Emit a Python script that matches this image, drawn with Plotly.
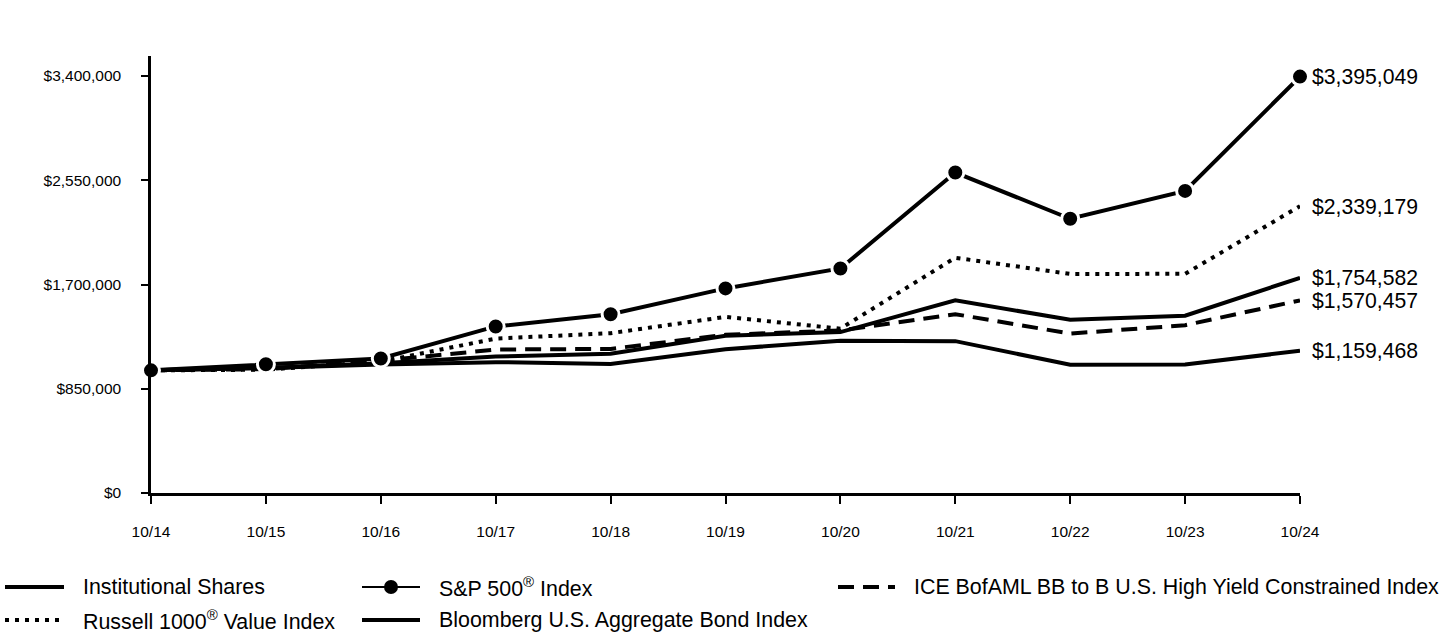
import plotly.graph_objects as go

# ---- data ----
years = ["10/14", "10/15", "10/16", "10/17", "10/18", "10/19", "10/20", "10/21", "10/22", "10/23", "10/24"]
institutional = [1000000, 1020000, 1058000, 1112000, 1136000, 1282000, 1312000, 1571000, 1412000, 1446000, 1754582]
sp500 = [1000000, 1050000, 1097000, 1358000, 1457000, 1668000, 1831000, 2613000, 2236000, 2463000, 3395049]
russell = [1000000, 1005000, 1072000, 1259000, 1303000, 1436000, 1340000, 1918000, 1786000, 1787000, 2339179]
bloomberg = [1000000, 1019000, 1048000, 1067000, 1052000, 1172000, 1242000, 1238000, 1046000, 1048000, 1159468]
ice = [1000000, 1010000, 1078000, 1170000, 1175000, 1290000, 1325000, 1458000, 1300000, 1368000, 1570457]
ytick_vals = [0, 850000, 1700000, 2550000, 3400000]
ytick_text = ["$0", "$850,000", "$1,700,000", "$2,550,000", "$3,400,000"]

FONT = "Liberation Sans, Arial, sans-serif"
W, H = 1440, 636
L, R, T, B = 151, 140, 56, 143
YMAX = 3563000

x = list(range(len(years)))
fig = go.Figure()

fig.add_trace(go.Scatter(x=x, y=bloomberg, mode="lines", name="Bloomberg U.S. Aggregate Bond Index",
                         line=dict(color="black", width=4), cliponaxis=False))
fig.add_trace(go.Scatter(x=x, y=ice, mode="lines", name="ICE BofAML BB to B U.S. High Yield Constrained Index",
                         line=dict(color="black", width=4, dash="16px,9px"), cliponaxis=False))
fig.add_trace(go.Scatter(x=x, y=institutional, mode="lines", name="Institutional Shares",
                         line=dict(color="black", width=4), cliponaxis=False))
fig.add_trace(go.Scatter(x=x, y=russell, mode="lines", name="Russell 1000® Value Index",
                         line=dict(color="black", width=4, dash="4px,6px"), cliponaxis=False))
fig.add_trace(go.Scatter(x=x, y=sp500, mode="lines+markers", name="S&P 500® Index",
                         line=dict(color="black", width=4),
                         marker=dict(color="black", size=17, line=dict(color="white", width=3)),
                         cliponaxis=False))

# end labels
for series in [sp500, russell, institutional, ice, bloomberg]:
    fig.add_annotation(x=x[-1], y=series[-1], text=f"${series[-1]:,.0f}", showarrow=False,
                       xanchor="left", yanchor="middle", xshift=10,
                       font=dict(family=FONT, size=21.2, color="black"))

# ---- manual legend (paper coordinates) ----
pw, ph = W - L - R, H - T - B
def px_x(p):
    return (p - L) / pw
def px_y(p):
    return (H - B - p) / ph

legend_items = [
    ("Institutional Shares", 5, 64, 587, "solid", False),
    ("Russell 1000<sup>®</sup> Value Index", 5, 64, 620, "4px,6px", False),
    ("S&P 500<sup>®</sup> Index", 362, 420, 587, "solid", True),
    ("Bloomberg U.S. Aggregate Bond Index", 362, 420, 620, "solid", False),
    ("ICE BofAML BB to B U.S. High Yield Constrained Index", 838, 895, 587, "16px,9px", False),
]
for text, x0, x1, yy, dash, dot in legend_items:
    fig.add_shape(type="line", xref="paper", yref="paper",
                  x0=px_x(x0), x1=px_x(x1), y0=px_y(yy), y1=px_y(yy),
                  line=dict(color="black", width=4 if not dot else 2, dash=dash))
    if dot:
        cx = (x0 + x1) / 2
        fig.add_shape(type="circle", xref="paper", yref="paper",
                      x0=px_x(cx - 7), x1=px_x(cx + 7), y0=px_y(yy + 7), y1=px_y(yy - 7),
                      fillcolor="black", line=dict(color="black", width=0))
    fig.add_annotation(xref="paper", yref="paper", x=px_x(x1 + 17), y=px_y(yy),
                       text=text, showarrow=False, xanchor="left", yanchor="middle",
                       font=dict(family=FONT, size=21.4, color="black"))

fig.update_layout(
    width=W, height=H,
    margin=dict(l=L, r=R, t=T, b=B, pad=0),
    paper_bgcolor="white", plot_bgcolor="white",
    showlegend=False,
    font=dict(family=FONT, color="black"),
    xaxis=dict(range=[0, 10], tickmode="array", tickvals=x, ticktext=years,
               showgrid=False, zeroline=False, showline=True, linecolor="black", linewidth=2.5,
               ticks="outside", ticklen=8, tickwidth=2, tickcolor="black",
               ticklabelstandoff=15, tickfont=dict(family=FONT, size=15.5, color="black")),
    yaxis=dict(range=[0, YMAX], tickmode="array", tickvals=ytick_vals, ticktext=ytick_text,
               showgrid=False, zeroline=False, showline=True, linecolor="black", linewidth=2.5,
               ticks="outside", ticklen=7, tickwidth=2, tickcolor="black",
               ticklabelstandoff=17, tickfont=dict(family=FONT, size=15.5, color="black")),
)

fig.write_html("out.html", config={"displayModeBar": False},
               post_script="document.body.style.margin='0';")
